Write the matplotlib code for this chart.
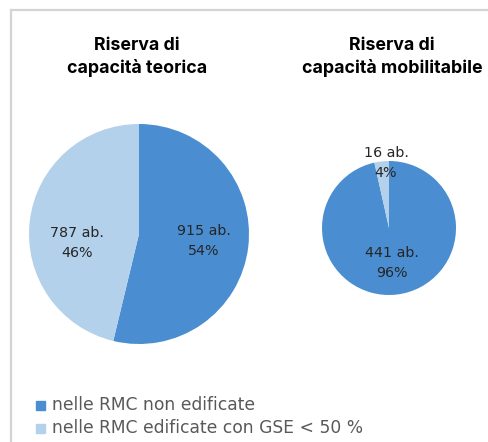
import matplotlib
matplotlib.use('Agg')
import matplotlib.pyplot as plt
from matplotlib.lines import Line2D
from matplotlib.patches import Rectangle

# Data
titles = ['Riserva di\ncapacità teorica', 'Riserva di\ncapacità mobilitabile']
categories = ['nelle RMC non edificate', 'nelle RMC edificate con GSE < 50 %']
teorica = [915, 787]
mobilitabile = [441, 16]
colors = ['#4A8ED1', '#B4D1EC']

W, H = 489, 442
fig = plt.figure(figsize=(W / 100, H / 100), dpi=100)

# Light grey frame (cut on right / bottom as in the original)
frame = '#D4D4D4'
fig.add_artist(Line2D([11 / W, 11 / W], [0, 1 - 10 / H], color=frame, lw=1.6))
fig.add_artist(Line2D([11 / W, 1], [1 - 10 / H, 1 - 10 / H], color=frame, lw=1.6))


def px_axes(x0, y0, x1, y1):
    return fig.add_axes([x0 / W, 1 - y1 / H, (x1 - x0) / W, (y1 - y0) / H])


def draw_pie(ax, values, label_pos):
    ax.pie(values, colors=colors, startangle=90, counterclock=False,
           radius=1, wedgeprops=dict(linewidth=0))
    ax.set_xlim(-1, 1)
    ax.set_ylim(-1, 1)
    ax.set_aspect('equal')
    ax.axis('off')
    total = sum(values)
    for v, (x, y) in zip(values, label_pos):
        ax.text(x, y, f'{v} ab.\n{round(100 * v / total)}%', ha='center', va='center',
                fontsize=10.3, color='#262626', linespacing=1.55, family='DejaVu Sans',
                clip_on=False)


ax1 = px_axes(29, 124, 249, 344)
draw_pie(ax1, teorica, [(0.59, -0.06), (-0.56, -0.08)])

ax2 = px_axes(322, 161, 456, 295)
draw_pie(ax2, mobilitabile, [(0.045, -0.52), (-0.045, 0.97)])

for x, t in zip([137, 392], titles):
    fig.text(x / W, 1 - 57 / H, t, ha='center', va='center', fontsize=12.8,
             fontweight='bold', color='black', linespacing=1.3, family='Inter')

# Legend
for i, (lab, c) in enumerate(zip(categories, colors)):
    yc = 405 + i * 23
    fig.add_artist(Rectangle((36.5 / W, 1 - (yc + 4.5) / H), 9 / W, 9 / H,
                             transform=fig.transFigure, color=c))
    fig.text(52 / W, 1 - yc / H, lab, ha='left', va='center', fontsize=12.3,
             color='#595959', family='DejaVu Sans')

fig.savefig('out.png', dpi=100)
